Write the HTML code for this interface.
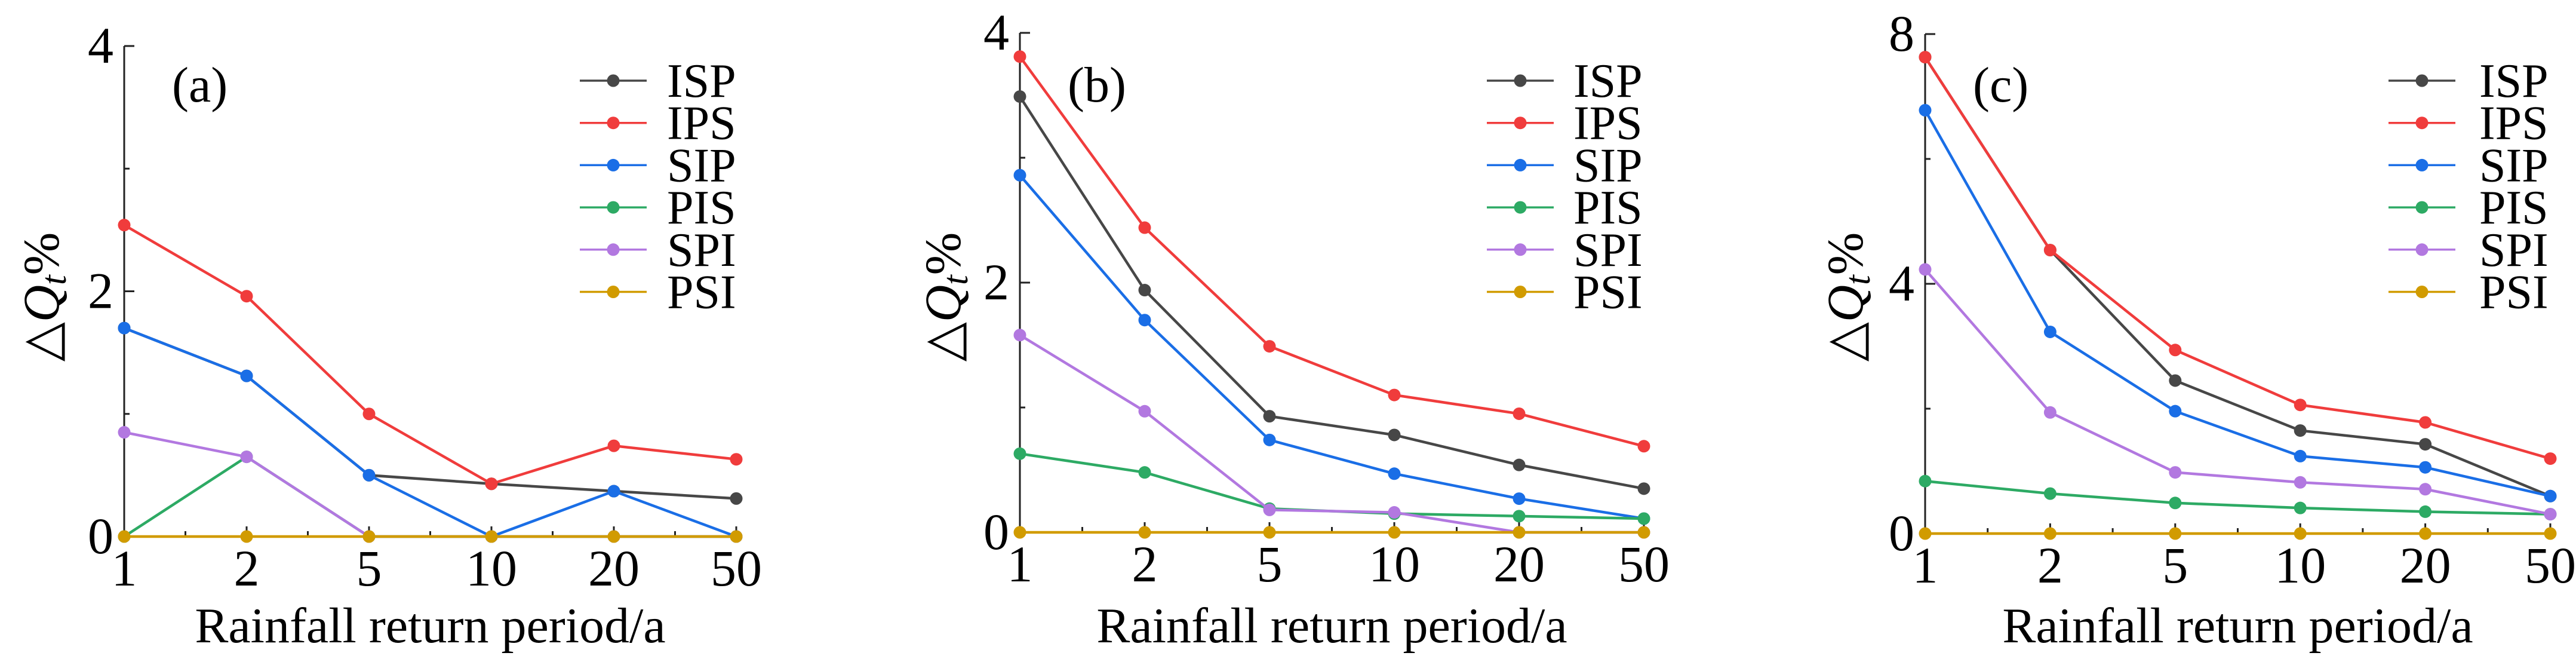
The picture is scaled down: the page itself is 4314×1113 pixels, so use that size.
<!DOCTYPE html>
<html><head><meta charset="utf-8">
<style>
html,body{margin:0;padding:0;background:#fff;}
svg{display:block;font-family:"Liberation Serif","DejaVu Serif",serif;}
</style></head>
<body>
<svg id="fig" width="4314" height="1113" viewBox="0 0 4314 1113" xmlns="http://www.w3.org/2000/svg"></svg>
<script>
const categories = ["1","2","5","10","20","50"];
const seriesNames = ["ISP","IPS","SIP","PIS","SPI","PSI"];
const seriesColors = ["#474747","#f03c3c","#1a6ee6","#2daa64","#b278e0","#d19b00"];
// panel (a)
const aISP = [1.70,1.31,0.50,0.43,0.37,0.31];
const aIPS = [2.54,1.96,1.00,0.43,0.74,0.63];
const aSIP = [1.70,1.31,0.50,0,0.37,0];
const aPIS = [0,0.65,0,0,0,0];
const aSPI = [0.85,0.65,0,0,0,0];
const aPSI = [0,0,0,0,0,0];
// panel (b)
const bISP = [3.49,1.94,0.93,0.78,0.54,0.35];
const bIPS = [3.81,2.44,1.49,1.10,0.95,0.69];
const bSIP = [2.86,1.70,0.74,0.47,0.27,0.11];
const bPIS = [0.63,0.48,0.19,0.15,0.13,0.11];
const bSPI = [1.58,0.97,0.18,0.16,0,0];
const bPSI = [0,0,0,0,0,0];
// panel (c)
const cISP = [7.63,4.54,2.45,1.65,1.43,0.60];
const cIPS = [7.63,4.54,2.94,2.06,1.78,1.20];
const cSIP = [6.78,3.23,1.96,1.24,1.06,0.60];
const cPIS = [0.84,0.64,0.49,0.41,0.35,0.31];
const cSPI = [4.23,1.94,0.98,0.82,0.71,0.31];
const cPSI = [0,0,0,0,0,0];
const aTicks = [0,2,4];
const bTicks = [0,2,4];
const cTicks = [0,4,8];

const NS = "http://www.w3.org/2000/svg";
const svg = document.getElementById("fig");
function mk(tag, attrs, parent){
  const e = document.createElementNS(NS, tag);
  for (const k in attrs) e.setAttribute(k, attrs[k]);
  (parent||svg).appendChild(e);
  return e;
}

const panels = [
  {id:"a", ax:208, y0:898, ymax:4, ytop:77, step:205, data:[aISP,aIPS,aSIP,aPIS,aSPI,aPSI], ticks:aTicks,
   legLine:971, legText:1117, label:288, ytitle:70},
  {id:"b", ax:1708, y0:891, ymax:4, ytop:55, step:209, data:[bISP,bIPS,bSIP,bPIS,bSPI,bPSI], ticks:bTicks,
   legLine:2490, legText:2635, label:1788, ytitle:1580},
  {id:"c", ax:3224, y0:893, ymax:8, ytop:57, step:209.4, data:[cISP,cIPS,cSIP,cPIS,cSPI,cPSI], ticks:cTicks,
   legLine:4000, legText:4152, label:3304, ytitle:3091}
];

panels.forEach(p => {
  const g = mk("g", {});
  
  
  const xS = i => p.ax + i * p.step;
  const yS = v => p.y0 - v / p.ymax * (p.y0 - p.ytop);
  const xEnd = xS(categories.length - 1);

  // y axis
  const yax = mk("line", {x1:p.ax, y1:p.ytop, x2:p.ax, y2:p.y0, stroke:"#222", "stroke-width":3}, g);
  
  
  const xax = mk("line", {x1:p.ax, y1:p.y0, x2:xEnd, y2:p.y0, stroke:"#222", "stroke-width":3}, g);
  
  
  // y ticks major + minor
  for (let k = 0; k < p.ticks.length; k++) {
    const v = p.ticks[k];
    mk("line", {x1:p.ax, y1:yS(v), x2:p.ax+17, y2:yS(v), stroke:"#222", "stroke-width":3}, g);
    if (k < p.ticks.length - 1) {
      const mv = (v + p.ticks[k+1]) / 2;
      mk("line", {x1:p.ax, y1:yS(mv), x2:p.ax+9, y2:yS(mv), stroke:"#222", "stroke-width":3}, g);
    }
    const t = mk("text", {x:p.ax-18, y:yS(v)+28, "text-anchor":"end", "font-size":86, fill:"#000"}, g);
    
    
    t.textContent = v;
  }
  // x ticks
  categories.forEach((c, i) => {
    mk("line", {x1:xS(i), y1:p.y0, x2:xS(i), y2:p.y0-17, stroke:"#222", "stroke-width":3}, g);
    if (i < categories.length - 1)
      mk("line", {x1:xS(i+0.5), y1:p.y0, x2:xS(i+0.5), y2:p.y0-9, stroke:"#222", "stroke-width":3}, g);
    const t = mk("text", {x:xS(i), y:p.y0+82, "text-anchor":"middle", "font-size":86, fill:"#000"}, g);
    
    
    t.textContent = c;
  });
  // series
  p.data.forEach((vals, s) => {
    const sg = mk("g", {}, g);
    
    
    const pts = vals.map((v, i) => xS(i) + "," + yS(v)).join(" ");
    mk("polyline", {points:pts, fill:"none", stroke:seriesColors[s], "stroke-width":4.5}, sg);
    vals.forEach((v, i) => {
      const c = mk("circle", {cx:xS(i), cy:yS(v), r:10.5, fill:seriesColors[s]}, sg);
      
      
    });
  });
  // legend
  seriesNames.forEach((n, s) => {
    const ly = 135 + s * 70.7;
    const lg = mk("g", {}, g);
    
    
    mk("line", {x1:p.legLine, y1:ly, x2:p.legLine+112, y2:ly, stroke:seriesColors[s], "stroke-width":3.5}, lg);
    mk("circle", {cx:p.legLine+56, cy:ly, r:10.5, fill:seriesColors[s]}, lg);
    const t = mk("text", {x:p.legText, y:ly+27, "font-size":80, fill:"#000"}, lg);
    t.textContent = n;
  });
  // panel label
  const pl = mk("text", {x:p.label, y:170, "font-size":84, fill:"#000"}, g);
  
  
  pl.textContent = "(" + p.id + ")";
  // x title
  const xt = mk("text", {x:(p.ax+xEnd)/2, y:1075, "text-anchor":"middle", "font-size":84, fill:"#000"}, g);
  
  
  xt.textContent = "Rainfall return period/a";
  // y title
  const yt = mk("text", {x:0, y:0, "text-anchor":"middle", "font-size":86, fill:"#000",
    transform:"translate(" + (p.ytitle+28) + ",497) rotate(-90)"}, g);
  
  
  const t1 = mk("tspan", {}, yt); t1.textContent = "△";
  const t2 = mk("tspan", {"font-style":"italic"}, yt); t2.textContent = "Q";
  const t3 = mk("tspan", {"font-style":"italic", "font-size":60, dy:12}, yt); t3.textContent = "t";
  const t4 = mk("tspan", {dy:-12}, yt); t4.textContent = "%";
});
</script>
</body></html>
